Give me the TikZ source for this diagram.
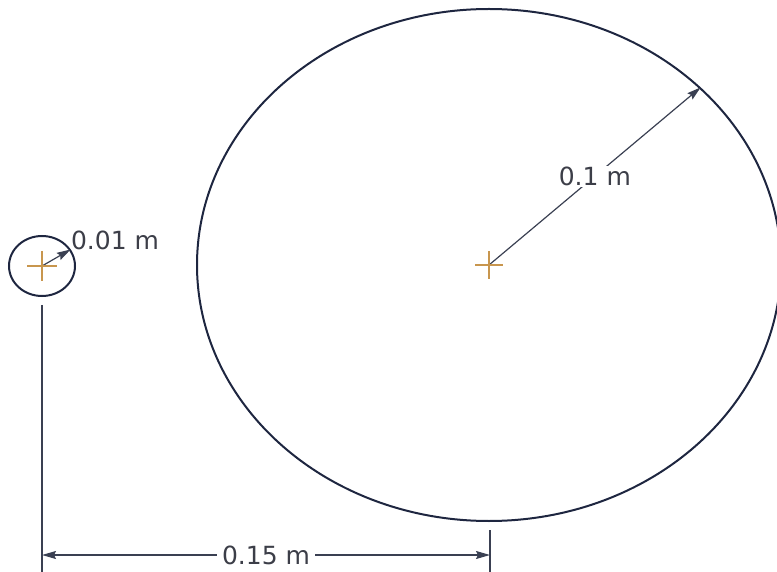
\documentclass[tikz,border=0pt]{standalone}
\usepackage{fontspec}
\setmainfont{DejaVu Sans}
\usepackage{tikz}
\usetikzlibrary{shapes.geometric,arrows.meta,calc}
\definecolor{navy}{HTML}{1E2640}
\definecolor{dimgrey}{HTML}{3A4052}
\definecolor{tan}{HTML}{C8964E}
\definecolor{txt}{HTML}{3C3E48}

\begin{document}
\begin{tikzpicture}[
        x=1pt, y=-1pt,
        every node/.style={font=\fontsize{25}{30}\selectfont, text=txt},
        rim/.style={ellipse, draw=navy, line width=2pt, inner sep=0pt},
        dimline/.style={-{Stealth[length=14pt,width=8pt,inset=2pt]}, draw=dimgrey, line width=1.2pt},
        extline/.style={draw=dimgrey, line width=1.2pt},
        tag/.style={fill=white, inner xsep=5pt, inner ysep=1pt},
        centre/.style={draw=tan, line width=1.2pt}
        ]
        \useasboundingbox (0,0) rectangle (777,572);

        % the two circles, at explicit pixel positions
        \node[rim, minimum width=66pt, minimum height=60pt] (pin) at (42,266) {};
        \node[rim, minimum width=584pt, minimum height=512pt] (disk) at (489,265) {};

        % radii
        \draw[dimline] (pin.center) -- (pin.30);
        \node (pinlabel) at (115,240) {0.01 m};
        \draw[dimline] (disk.center) -- node[tag] (disklabel) {0.1 m} (disk.40.6);

        % centre marks
        \draw[centre] ($(pin.center)+(-15,0)$) -- ($(pin.center)+(15,0)$);
        \draw[centre] ($(pin.center)+(0,-15)$) -- ($(pin.center)+(0,15)$);
        \draw[centre] ($(disk.center)+(-14,0)$) -- ($(disk.center)+(14,0)$);
        \draw[centre] ($(disk.center)+(0,-14)$) -- ($(disk.center)+(0,14)$);

        % distance between centres
        \coordinate (pinfoot) at (42,305);
        \coordinate (pinbase) at (42,572);
        \coordinate (disktop) at (490,530);
        \coordinate (diskbase) at (490,572);
        \coordinate (leftend) at (42,555);
        \coordinate (rightend) at (490,555);
        \draw[extline] (pinfoot) -- (pinbase);
        \draw[extline] (disktop) -- (diskbase);
        \draw[dimline, {Stealth[length=14pt,width=8pt,inset=2pt]}-{Stealth[length=14pt,width=8pt,inset=2pt]}] (leftend) -- node[tag] (gaplabel) {0.15 m} (rightend);

    \end{tikzpicture}
\end{document}
